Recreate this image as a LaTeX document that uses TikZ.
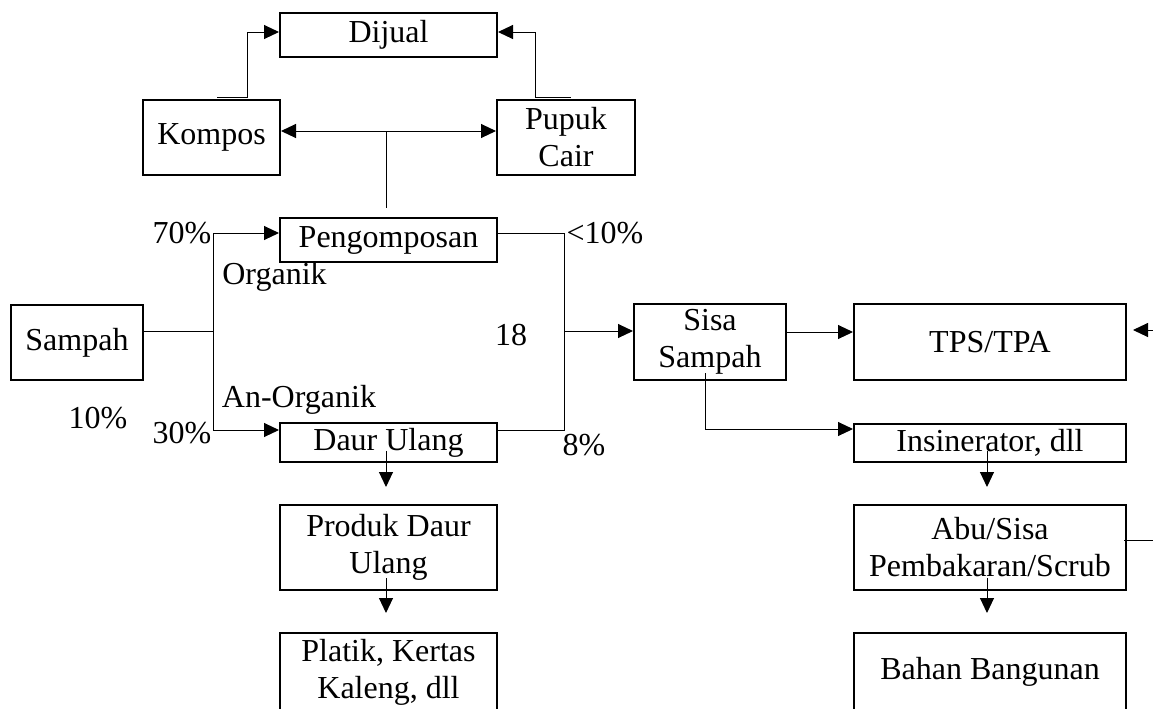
\documentclass[tikz,border=0pt]{standalone}
\usepackage{fontspec}
\setmainfont{Liberation Serif}
\usetikzlibrary{arrows.meta}

\begin{document}
\begin{tikzpicture}
  [
    x=0.5pt, y=0.5pt,
    >={Triangle[length=7.5pt,width=7pt]},
    line width=0.5pt,
    font=\fontsize{16}{18.5}\selectfont,
    box node/.style={draw, line width=1pt, inner sep=0pt, align=center},
    wide node/.style={box node, minimum width=108.5pt},
    long node/.style={box node, minimum width=136pt}
    ]

  \useasboundingbox (0,0) rectangle (1153,-708);
  \clip (0,0) rectangle (1153,-708);

  \node [wide node, minimum height=21.75pt] (dijual) at (388.5,-35) {Dijual};
  \node [wide node, minimum height=21.75pt] (pengomposan) [below of=dijual, node distance=102.5pt] {Pengomposan};
  \node [wide node, minimum height=19.25pt] (daur) [below of=pengomposan, node distance=101.25pt] {Daur Ulang};
  \node [wide node, minimum height=42.5pt] (produk) [below of=daur, node distance=52.5pt] {Produk Daur\\Ulang};
  \node [wide node, minimum height=39pt] (platik) [below of=produk, node distance=62.25pt] {Platik, Kertas\\Kaleng, dll};
  \node [box node, minimum width=68.5pt, minimum height=37.5pt] (kompos) at (211.5,-137) {Kompos};
  \node [box node, minimum width=69pt, minimum height=37.5pt] (pupuk) at (566,-137) {Pupuk\\Cair};
  \node [box node, minimum width=66.25pt, minimum height=37.5pt] (sampah) at (77,-342.5) {Sampah};
  \node [box node, minimum width=76pt, minimum height=38pt] (sisa) at (710,-342) {Sisa\\Sampah};
  \node [long node, minimum height=38pt] (tps) [right of=sisa, node distance=140pt] {TPS/TPA};
  \node [long node, minimum height=19pt] (insinerator) [below of=tps, node distance=50.5pt] {Insinerator, dll};
  \node [long node, minimum height=42.5pt] (abu) [below of=insinerator, node distance=52.25pt] {Abu/Sisa\\Pembakaran/Scrub};
  \node [long node, minimum height=39pt] (bahan) [below of=abu, node distance=62.25pt] {Bahan Bangunan};

  \node (p70) at (182,-233) {70\%};
  \node (p10a) at (605,-233) {<10\%};
  \node (organik) at (274.5,-277) {Organik};
  \node (n18) at (511,-335) {18};
  \node (anorganik) at (299,-400) {An-Organik};
  \node (p10b) at (98,-418) {10\%};
  \node (p30) at (182,-433) {30\%};
  \node (p8) at (584,-445) {8\%};

  \coordinate (split) at (213,-331);
  \coordinate (merge) at (564,-331);
  \coordinate (stem) at (386.5,-131);
  \coordinate (edge a) at (1153,-330);
  \coordinate (edge b) at (1153,-540);

  \draw [->] ([xshift=2.75pt,yshift=0.75pt]kompos.north) -- ++(30,0) |- ([yshift=1.5pt]dijual.west);
  \draw [->] ([xshift=2.25pt,yshift=0.75pt]pupuk.north) -- ++(-35.5,0) |- ([yshift=1.5pt]dijual.east);
  \draw [<->] ([yshift=3pt]kompos.east) -- ([yshift=3pt]pupuk.west);
  \draw (stem) -- ([xshift=-1pt,yshift=4.5pt]pengomposan.north);
  \draw (sampah.east |- split) -- (split);
  \draw [->] (split) |- ([yshift=3.5pt]pengomposan.west);
  \draw [->] (split) |- ([yshift=6.25pt]daur.west);
  \draw ([yshift=3.5pt]pengomposan.east) -| (merge);
  \draw ([yshift=6.25pt]daur.east) -| (merge);
  \draw [->] (merge) -- (sisa.west |- merge);
  \draw [->] ([yshift=5pt]sisa.east) -- ([yshift=5pt]tps.west);
  \draw [->] ([xshift=-2.5pt,yshift=4pt]sisa.south) |- ([yshift=7pt]insinerator.west);
  \draw [->] ([xshift=-1.25pt,yshift=6pt]daur.south) -- ([xshift=-1.25pt,yshift=8.5pt]produk.north);
  \draw [->] ([xshift=-1.25pt,yshift=6.5pt]produk.south) -- ([xshift=-1.25pt,yshift=9.5pt]platik.north);
  \draw [->] ([xshift=-1.5pt,yshift=6pt]insinerator.south) -- ([xshift=-1.5pt,yshift=8.5pt]abu.north);
  \draw [->] ([xshift=-1.5pt,yshift=6.5pt]abu.south) -- ([xshift=-1.5pt,yshift=9.5pt]bahan.north);
  \draw ([xshift=-1.5pt,yshift=3.75pt]abu.east) -- (edge b);
  \draw [->] (edge a) -- ([xshift=3pt,yshift=6pt]tps.east);
\end{tikzpicture}
\end{document}
